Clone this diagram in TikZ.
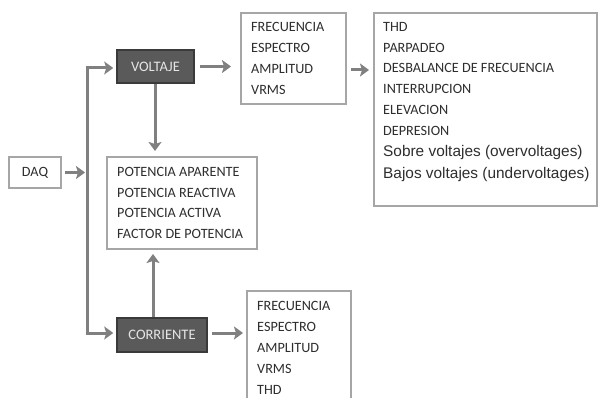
\documentclass[tikz,border=0pt]{standalone}
\usepackage{fontspec}
\setmainfont{Carlito}
\newfontfamily\arialfont{Liberation Sans}
\usetikzlibrary{arrows.meta,positioning}
\definecolor{boxgray}{HTML}{A6A6A6}
\definecolor{arrgray}{HTML}{808080}
\definecolor{darkfill}{HTML}{5A5A5A}
\definecolor{darkline}{HTML}{3A3A3A}
\definecolor{txtgray}{HTML}{2E2E2E}

\begin{document}
\begin{tikzpicture}[x=1pt,y=-1pt]
\tikzstyle{every node}+=[inner sep=0pt]
\tikzstyle{lbox}=[draw=boxgray,line width=2pt,fill=white,anchor=north west]
\tikzstyle{dbox}=[draw=darkline,line width=1.5pt,fill=darkfill,text=black!10,font=\fontsize{14.5}{14.5}\selectfont]
\tikzstyle{item}=[anchor=west,text=txtgray,font=\fontsize{14.2}{14.2}\selectfont]
\tikzstyle{arr}=[draw=arrgray,line width=3pt,-{Stealth[length=9pt,width=13pt,inset=2pt]}]
\useasboundingbox (0,0) rectangle (600,398);
\clip (0,0) rectangle (600,398);
% source and the two channels
\node [lbox,minimum width=52pt,minimum height=31pt] (daq) at (8,156) {};
\node [item,anchor=center] (daqtxt) at (daq.center) {DAQ};
\node [dbox,minimum width=77pt,minimum height=33pt] (volt) at (155.5,66.5) {VOLTAJE};
\node [dbox,minimum width=90pt,minimum height=34pt] (corr) at (162,335) {CORRIENTE};
% result boxes
\node [lbox,minimum width=105pt,minimum height=91pt] (fv) at (240,12) {};
\node [lbox,minimum width=223pt,minimum height=193pt] (ev) at (373,12) {};
\node [lbox,minimum width=150pt,minimum height=92pt] (pot) at (106,156) {};
\node [lbox,minimum width=104pt,minimum height=130pt] (fc) at (246,290) {};
\foreach \t [count=\i] in {FRECUENCIA,ESPECTRO,AMPLITUD,VRMS}
  \node [item] (fv\i) at (251,6+\i*21) {\t};
\foreach \t [count=\i] in {THD,PARPADEO,DESBALANCE DE FRECUENCIA,INTERRUPCION,ELEVACION,DEPRESION}
  \node [item] (ev\i) at (383,6+\i*20.8) {\t};
\node [item,font=\arialfont\fontsize{15.4}{15.4}\selectfont] (ev7) at (383,153) {Sobre voltajes (overvoltages)};
\node [item,font=\arialfont\fontsize{15.4}{15.4}\selectfont] (ev8) at (383,175) {Bajos voltajes (undervoltages)};
\foreach \t [count=\i] in {POTENCIA APARENTE,POTENCIA REACTIVA,POTENCIA ACTIVA,FACTOR DE POTENCIA}
  \node [item] (pot\i) at (117,151.5+\i*20.5) {\t};
\foreach \t [count=\i] in {FRECUENCIA,ESPECTRO,AMPLITUD,VRMS,THD}
  \node [item] (fc\i) at (257,285+\i*21) {\t};
% connectors
\coordinate (tt) at (87,68);
\coordinate (tb) at (87,333);
\draw [arrgray,line width=3pt] (tt) -- (tb);
\draw [arr] ([xshift=3pt]daq.east) -- (daq.east -| 85,0);
\draw [arr,shorten >=3pt] ([xshift=-1.5pt]tt) -- (tt -| volt.west);
\draw [arr,shorten >=3pt] ([xshift=-1.5pt]tb) -- (tb -| corr.west);
\draw [arr,shorten <=5pt,shorten >=9pt] (volt.east) -- (volt.east -| fv.west);
\draw [arr,shorten <=4pt,shorten >=4pt] (fv.east |- 0,70) -- (ev.west |- 0,70);
\draw [arr,shorten >=5pt] (volt.south -| 155,0) -- (pot.north -| 155,0);
\draw [arr,shorten >=4pt] (corr.north -| 153,0) -- (pot.south -| 153,0);
\draw [arr,shorten <=4pt,shorten >=3pt] (tb -| corr.east) -- (tb -| fc.west);
\end{tikzpicture}
\end{document}
